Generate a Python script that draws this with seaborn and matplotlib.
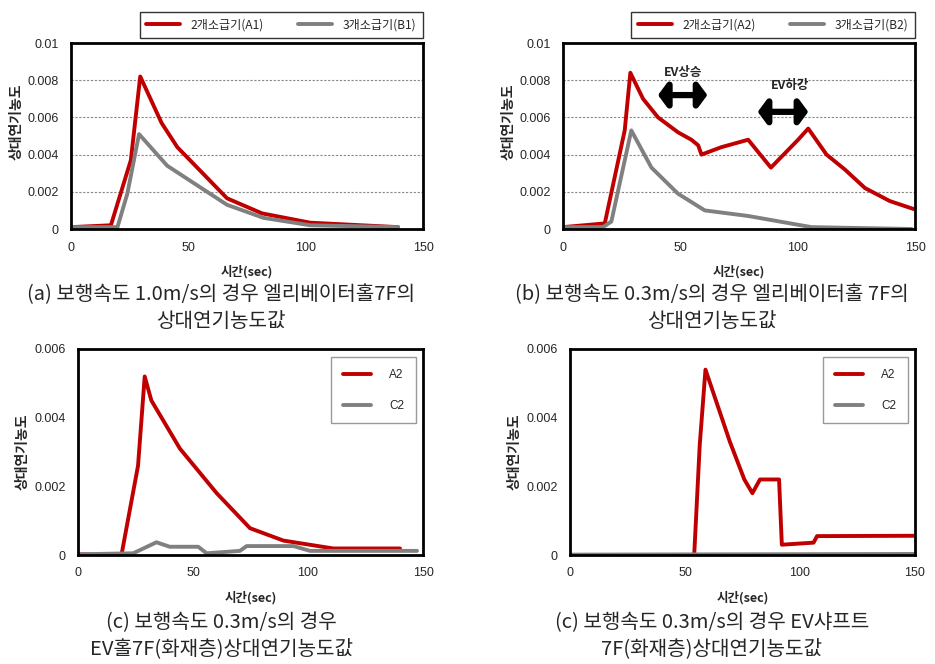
'''엘리베이터홀 상대연기농도 그래프 재현'''
import pandas as pd
import seaborn as sns
import matplotlib.pyplot as plt
from matplotlib.ticker import FixedLocator, FixedFormatter

# (a) 보행속도 1.0m/s
a1_t = [0, 17, 25.5, 29.5, 38.6, 45.3, 66.5, 81.4, 101.9, 139.4]
a1_v = [0.0001, 0.0002, 0.0037, 0.0082, 0.0057, 0.0044, 0.00165, 0.00084, 0.00034, 0.0001]
b1_t = [0, 19.8, 24, 29, 41, 66.5, 82, 102, 139.4]
b1_v = [0.0001, 0.0001, 0.0019, 0.0051, 0.0034, 0.0013, 0.0006, 0.0002, 0.0001]

# (b) 보행속도 0.3m/s
a2_t = [0, 17.8, 26.3, 28.7, 34.1, 40.5, 49, 54.7, 57.6, 59, 67.5, 73.2, 78.9,
        88.6, 100.2, 104.5, 112.3, 120.1, 128.7, 139.3, 150]
a2_v = [0.0001, 0.0003, 0.0053, 0.0084, 0.0070, 0.0060, 0.0052, 0.0048, 0.0045,
        0.0040, 0.0044, 0.0046, 0.0048, 0.0033, 0.0048, 0.0054, 0.0040, 0.0032,
        0.0022, 0.0015, 0.00105]
b2_t = [0, 17, 20.6, 29.1, 37.7, 49, 60.4, 78.9, 105.9, 148.6]
b2_v = [0.0001, 0.0001, 0.0004, 0.0053, 0.0033, 0.0019, 0.0010, 0.0007, 0.0001, 0.0]

# (c) EV홀 7F
c_a2_t = [0, 18.9, 26.1, 29.0, 31.9, 44.3, 60.3, 74.8, 89.3, 111, 140]
c_a2_v = [0.00002, 0.0, 0.0026, 0.0052, 0.0045, 0.0031, 0.0018, 0.00078, 0.00042, 0.00019, 0.00019]
c_c2_t = [0, 24, 34.1, 39.9, 52.3, 55.9, 70.4, 73.3, 93.7, 100.9, 147.4]
c_c2_v = [0.00002, 0.00005, 0.00037, 0.00024, 0.00024, 0.00005, 0.00012, 0.00026,
          0.00026, 0.00012, 0.00012]

# (d) EV샤프트 7F
d_a2_t = [0, 54, 56.4, 58.9, 69.5, 75.8, 79.3, 82.6, 90.9, 92.1, 105.9, 107.4, 150]
d_a2_v = [0.0, 0.0, 0.0032, 0.0054, 0.0033, 0.0022, 0.0018, 0.0022, 0.0022, 0.0003,
          0.00036, 0.00055, 0.00056]
d_c2_t = [0, 150]
d_c2_v = [0.00001, 0.00003]

x_ticks = [0, 50, 100, 150]
y_ticks_top = [0, 0.002, 0.004, 0.006, 0.008, 0.01]
y_labels_top = ['0', '0.002', '0.004', '0.006', '0.008', '0.01']
y_ticks_bot = [0, 0.002, 0.004, 0.006]
y_labels_bot = ['0', '0.002', '0.004', '0.006']

captions = [
    '(a) 보행속도 1.0m/s의 경우 엘리베이터홀7F의\n상대연기농도값',
    '(b) 보행속도 0.3m/s의 경우 엘리베이터홀 7F의\n상대연기농도값',
    '(c) 보행속도 0.3m/s의 경우\nEV홀7F(화재층)상대연기농도값',
    '(c) 보행속도 0.3m/s의 경우 EV샤프트\n7F(화재층)상대연기농도값',
]

RED = '#c00000'
GRAY = '#808080'
KR = ['Noto Sans CJK KR', 'DejaVu Sans']


def make_df(pairs):
    frames = []
    for name, t, v in pairs:
        frames.append(pd.DataFrame({'t': t, 'v': v, 's': name}))
    return pd.concat(frames, ignore_index=True)


def style_axes(ax, yt, yl, ymax, grid):
    ax.set_xlim(0, 150)
    ax.set_ylim(0, ymax)
    ax.xaxis.set_major_locator(FixedLocator(x_ticks))
    ax.yaxis.set_major_locator(FixedLocator(yt))
    ax.yaxis.set_major_formatter(FixedFormatter(yl))
    ax.tick_params(length=0, labelsize=9, pad=9)
    for lab in ax.get_xticklabels() + ax.get_yticklabels():
        lab.set_family('Liberation Sans')
    for sp in ax.spines.values():
        sp.set_visible(True)
        sp.set_color('black')
        sp.set_linewidth(2)
    if grid:
        ax.yaxis.grid(True, linestyle=(0, (2, 1.5)), color='#888888', linewidth=0.8)
    ax.set_xlabel('시간(sec)', fontsize=9, fontweight='bold', family=KR, labelpad=8)
    ax.set_ylabel('상대연기농도', fontsize=10, fontweight='bold', family=KR, labelpad=3)
    if grid:
        ax.yaxis.set_label_coords(-0.135, 0.575)


def main():
    sns.set_style('white')
    plt.rcParams['font.family'] = KR

    fig = plt.figure(figsize=(9.35, 6.64), dpi=100)
    W, H = 935, 664

    def box(l, r, t, b):
        return [l / W, 1 - b / H, (r - l) / W, (b - t) / H]

    ax_a = fig.add_axes(box(71, 423, 43, 229))
    ax_b = fig.add_axes(box(563, 915, 43, 229))
    ax_c = fig.add_axes(box(78, 423, 349, 555))
    ax_d = fig.add_axes(box(570, 915, 349, 555))

    panels = [
        (ax_a, make_df([('2개소급기(A1)', a1_t, a1_v), ('3개소급기(B1)', b1_t, b1_v)]), True),
        (ax_b, make_df([('2개소급기(A2)', a2_t, a2_v), ('3개소급기(B2)', b2_t, b2_v)]), True),
        (ax_c, make_df([('A2', c_a2_t, c_a2_v), ('C2', c_c2_t, c_c2_v)]), False),
        (ax_d, make_df([('A2', d_a2_t, d_a2_v), ('C2', d_c2_t, d_c2_v)]), False),
    ]

    for ax, df, top in panels:
        sns.lineplot(data=df, x='t', y='v', hue='s', palette=[RED, GRAY],
                     linewidth=2.8, sort=False, estimator=None, ax=ax)
        if top:
            style_axes(ax, y_ticks_top, y_labels_top, 0.01, True)
            ax.legend(title=None, loc='lower right', bbox_to_anchor=(1.0, 1.027),
                      borderaxespad=0, ncol=2, frameon=True, fancybox=False,
                      edgecolor='black', fontsize=8.7, handlelength=2.8,
                      handletextpad=0.9, columnspacing=2.8, borderpad=0.55)
        else:
            style_axes(ax, y_ticks_bot, y_labels_bot, 0.006, False)
            ax.legend(title=None, loc='upper right',
                      bbox_to_anchor=(1 - 7 / 345, 1 - 8 / 206), borderaxespad=0,
                      frameon=True, fancybox=False, edgecolor='#808080',
                      fontsize=8.5, handlelength=2.4, labelspacing=1.6,
                      borderpad=1.0, handletextpad=1.5)
            ax.get_legend().get_frame().set_linewidth(1.0)
            for txt in ax.get_legend().get_texts():
                txt.set_family('Liberation Sans')

    # EV 상승 / 하강 화살표
    arrow_kw = dict(arrowstyle='<|-|>,head_length=0.55,head_width=0.75',
                    color='black', lw=4.5, shrinkA=0, shrinkB=0)
    ax_b.annotate('', xy=(61.5, 0.0072), xytext=(40.5, 0.0072), arrowprops=arrow_kw)
    ax_b.annotate('', xy=(104.5, 0.0063), xytext=(83, 0.0063), arrowprops=arrow_kw)
    ax_b.text(51.2, 0.0084, 'EV상승', fontsize=9, fontweight='bold', ha='center', va='center')
    ax_b.text(96.7, 0.0077, 'EV하강', fontsize=9, fontweight='bold', ha='center', va='center')

    cap_pos = [(221, 308), (712, 308), (221, 636), (712, 636)]
    for (cx, cy), cap in zip(cap_pos, captions):
        fig.text(cx / W, 1 - cy / H, cap, ha='center', va='center', fontsize=14.5,
                 fontweight='light', linespacing=1.35)

    fig.savefig('out.png', dpi=100)


if __name__ == '__main__':
    main()
